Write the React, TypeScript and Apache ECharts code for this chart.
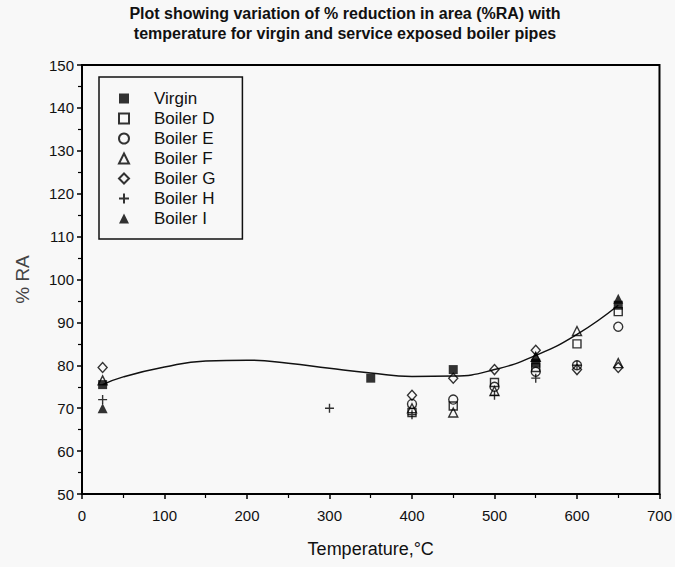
import React, { useEffect, useRef } from 'react';
import * as echarts from 'echarts';

const titleLines = [
  'Plot showing variation of % reduction in area (%RA) with',
  'temperature for virgin and service exposed boiler pipes',
];
const xAxisName = 'Temperature,°C';
const yAxisName = '% RA';

const virginX = [25, 350, 450, 550, 650];
const virginY = [75.5, 77, 79, 80.5, 94];
const boilerDX = [400, 450, 500, 550, 600, 650];
const boilerDY = [69, 70.5, 76, 79.5, 85, 92.5];
const boilerEX = [400, 450, 500, 550, 600, 650];
const boilerEY = [71, 72, 75, 78.5, 80, 89];
const boilerFX = [25, 400, 450, 500, 550, 600, 650];
const boilerFY = [76.5, 70, 69, 74, 82, 88, 80.5];
const boilerGX = [25, 400, 450, 500, 550, 600, 650];
const boilerGY = [79.5, 73, 77, 79, 83.5, 79, 79.5];
const boilerHX = [25, 300, 400, 500, 550, 600];
const boilerHY = [72, 70, 68.5, 73, 77, 80];
const boilerIX = [25, 550, 650];
const boilerIY = [70, 82, 95.5];

const fitX = [25, 50, 100, 150, 200, 250, 300, 350, 400, 450, 500, 550, 600, 650];
const fitY = [75.5, 77.3, 79.6, 81, 81.2, 80.5, 79.3, 78.2, 77.4, 77.5, 79, 82.3, 87.2, 94];

const FONT = 'Liberation Sans, Arial, sans-serif';
const PLUS = 'path://M5,0 L5,10 M0,5 L10,5';

const zip = (xs: number[], ys: number[]) => xs.map((x, i) => [x, ys[i]]);

export default function App() {
  const ref = useRef<HTMLDivElement>(null);
  useEffect(() => {
    if (!ref.current) return;
    const chart = echarts.init(ref.current, undefined, { renderer: 'svg' });
    const hollow = { color: 'rgba(0,0,0,0)', borderColor: '#000', borderWidth: 1.4 };
    const filled = { color: '#000', borderColor: '#000', borderWidth: 0 };
    const sc = (name: string, xs: number[], ys: number[], symbol: string, size: any, style: any) => ({
      name,
      type: 'scatter',
      data: zip(xs, ys),
      symbol,
      symbolSize: size,
      itemStyle: style,
      z: 3,
    });
    chart.setOption({
      animation: false,
      backgroundColor: '#f8f8f8',
      title: {
        text: titleLines.join('\n'),
        left: 345,
        textAlign: 'center',
        top: 3,
        padding: 0,
        textStyle: { fontFamily: FONT, fontSize: 16, fontWeight: 'bold', color: '#111', lineHeight: 20 },
      },
      grid: { left: 82, right: 9, top: 65, bottom: 73, show: true, borderColor: '#000', borderWidth: 2, backgroundColor: 'transparent' },
      legend: {
        left: 99,
        top: 77,
        orient: 'vertical',
        data: ['Virgin', 'Boiler D', 'Boiler E', 'Boiler F', 'Boiler G', 'Boiler H', 'Boiler I'],
        borderColor: '#111',
        borderWidth: 1.5,
        padding: [13, 27, 12, 19],
        itemGap: 3,
        itemWidth: 10,
        itemHeight: 10,
        textStyle: { fontFamily: FONT, fontSize: 17, lineHeight: 17, color: '#111', padding: [0, 0, 0, 20] },
      },
      xAxis: {
        type: 'value',
        min: 0,
        max: 700,
        interval: 100,
        name: xAxisName,
        nameLocation: 'middle',
        nameGap: 46,
        nameTextStyle: { fontFamily: FONT, fontSize: 18, color: '#111' },
        axisLine: { lineStyle: { color: '#000', width: 2 } },
        axisTick: { show: true, length: 5, lineStyle: { color: '#000', width: 1.5 } },
        minorTick: { show: true, splitNumber: 2, length: 4, lineStyle: { color: '#000', width: 1.2 } },
        splitLine: { show: false },
        axisLabel: { fontFamily: FONT, fontSize: 15, color: '#111', margin: 14 },
      },
      yAxis: {
        type: 'value',
        min: 50,
        max: 150,
        interval: 10,
        name: yAxisName,
        nameLocation: 'middle',
        nameGap: 50,
        nameRotate: 90,
        nameTextStyle: { fontFamily: FONT, fontSize: 19, color: '#444' },
        axisLine: { lineStyle: { color: '#000', width: 2 } },
        axisTick: { show: true, length: 5, lineStyle: { color: '#000', width: 1.5 } },
        minorTick: { show: true, splitNumber: 2, length: 4, lineStyle: { color: '#000', width: 1.2 } },
        splitLine: { show: false },
        axisLabel: { fontFamily: FONT, fontSize: 15, color: '#111', margin: 8 },
      },
      series: [
        {
          name: 'fit',
          type: 'line',
          data: zip(fitX, fitY),
          smooth: true,
          showSymbol: false,
          lineStyle: { color: '#111', width: 1.5 },
          z: 2,
        },
        sc('Virgin', virginX, virginY, 'rect', 9, filled),
        sc('Boiler D', boilerDX, boilerDY, 'rect', 8, hollow),
        sc('Boiler E', boilerEX, boilerEY, 'circle', 9, hollow),
        sc('Boiler F', boilerFX, boilerFY, 'triangle', 9, hollow),
        sc('Boiler G', boilerGX, boilerGY, 'diamond', [9, 10], hollow),
        sc('Boiler H', boilerHX, boilerHY, PLUS, 9, hollow),
        sc('Boiler I', boilerIX, boilerIY, 'triangle', 10, filled),
      ],
    });
    return () => chart.dispose();
  }, []);
  return <div ref={ref} style={{ width: 675, height: 567, position: 'absolute', left: 0, top: 0 }} />;
}
